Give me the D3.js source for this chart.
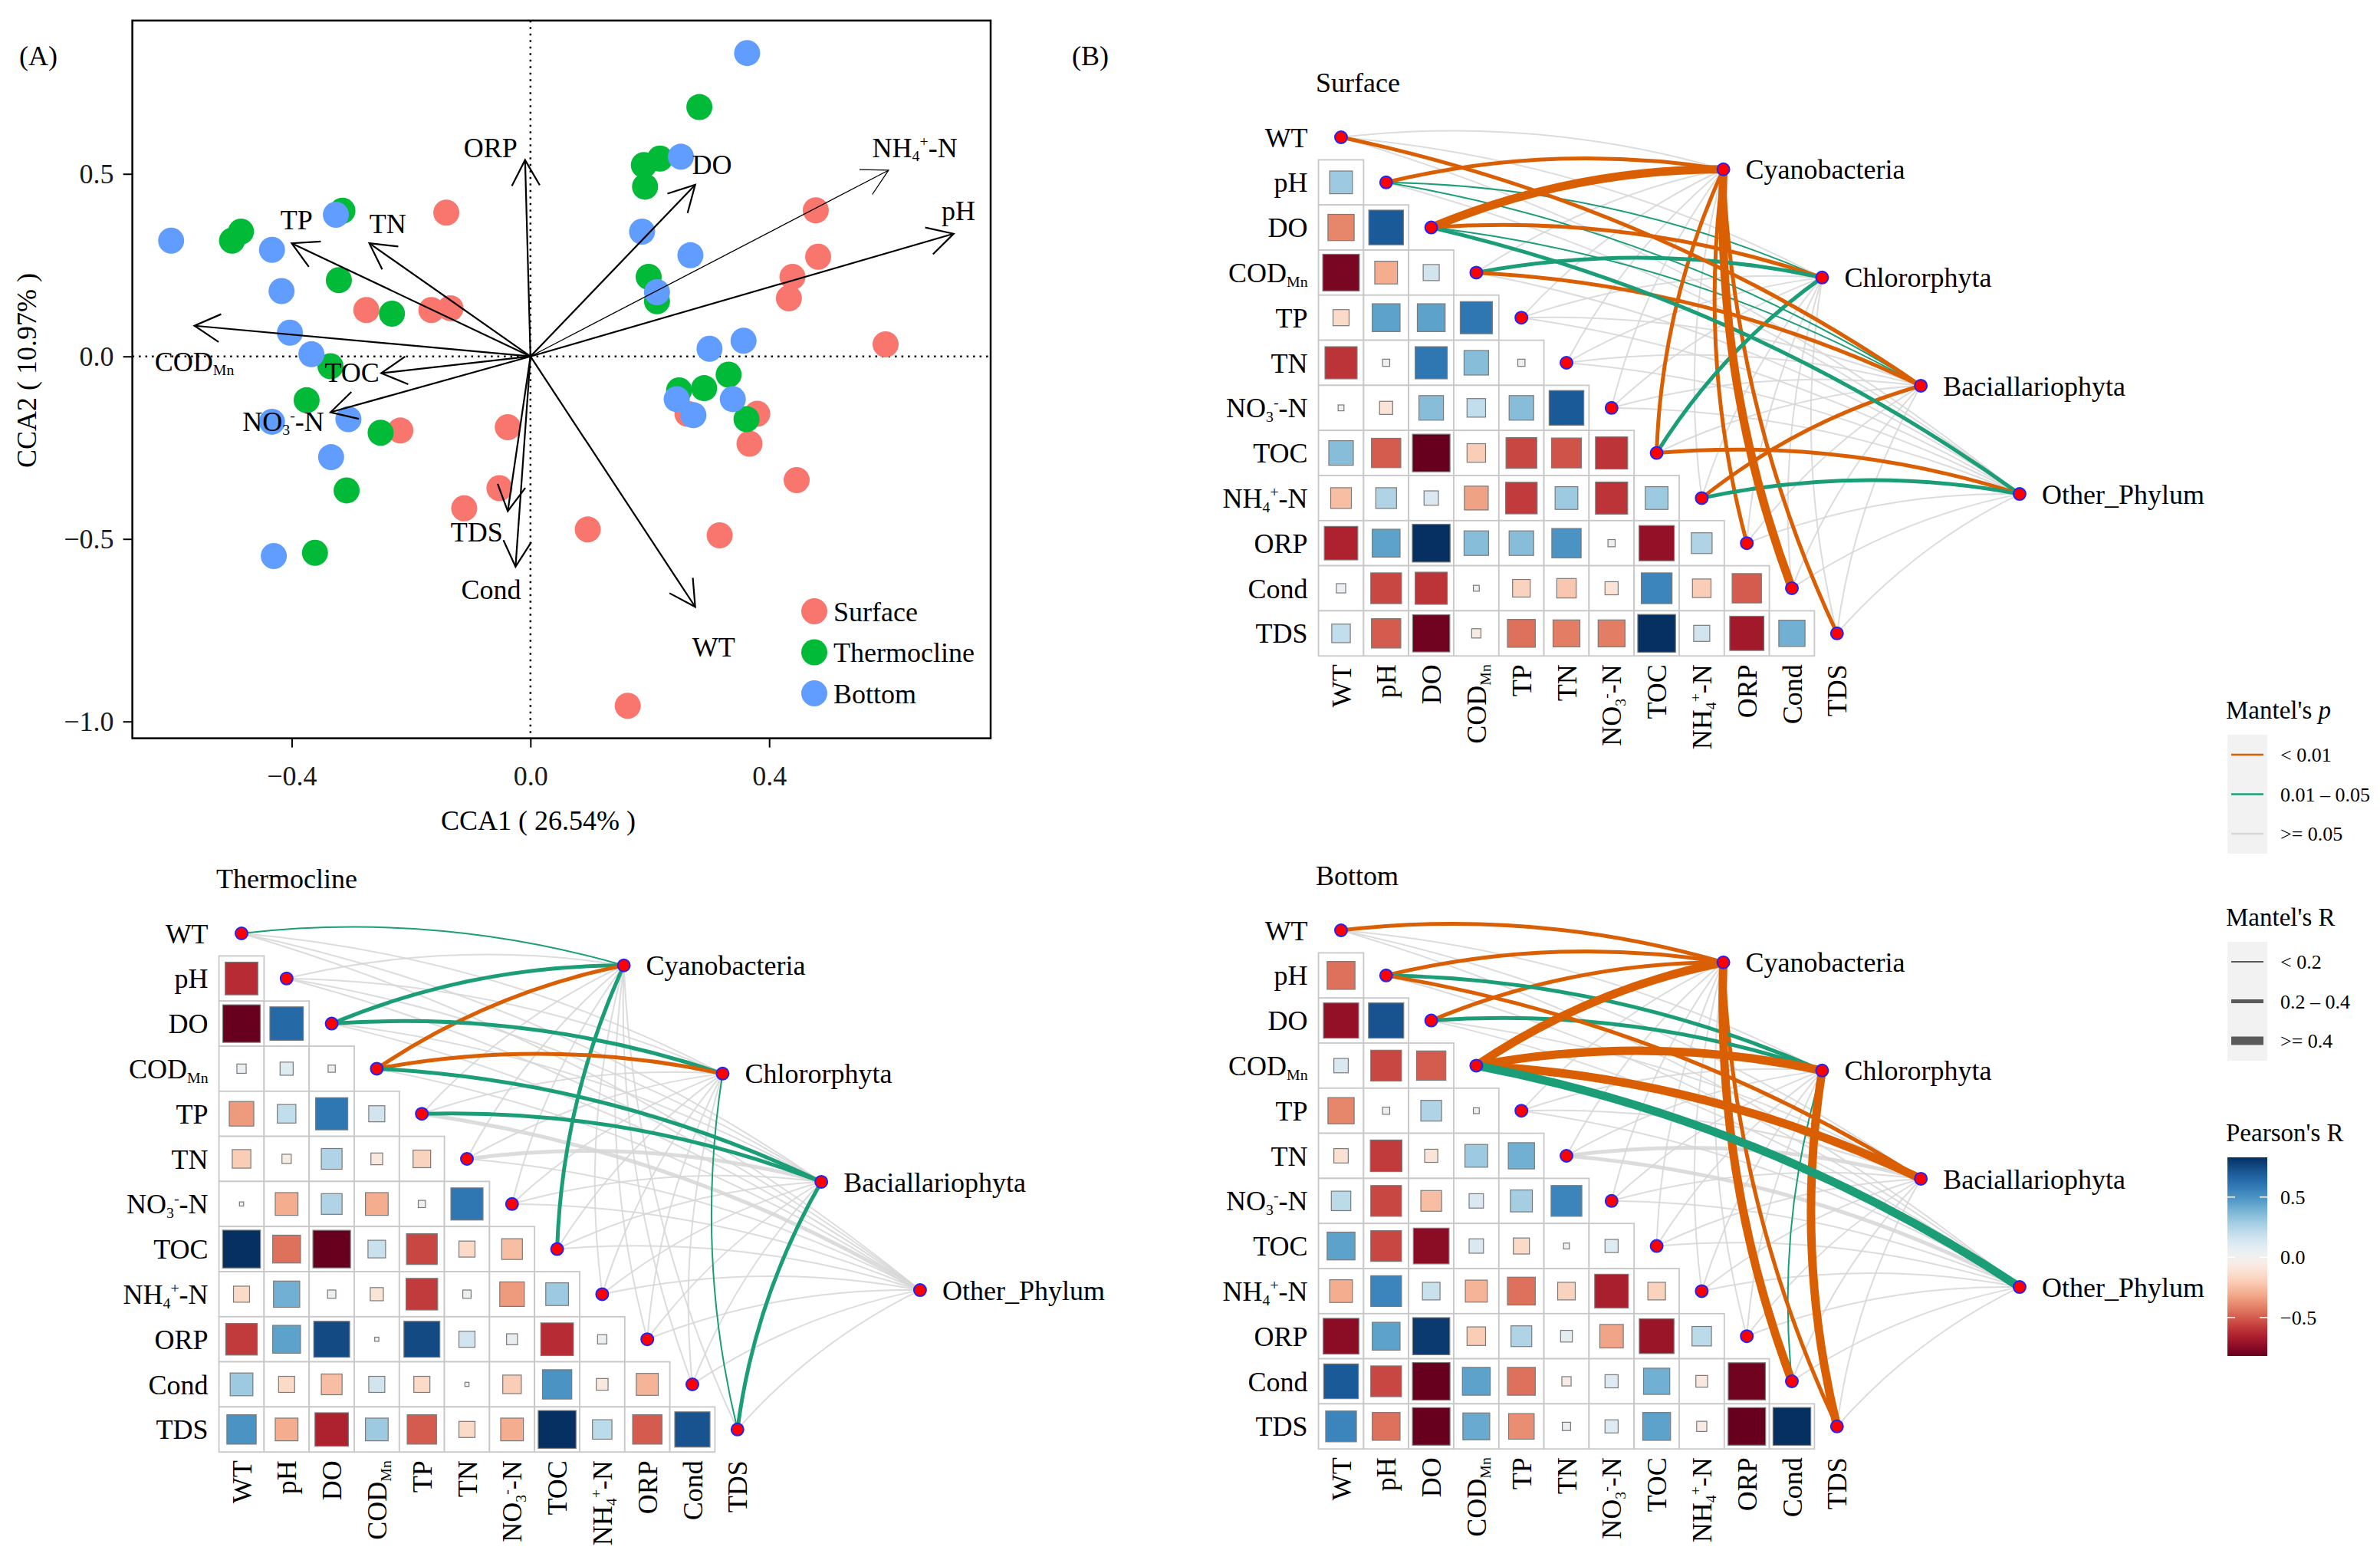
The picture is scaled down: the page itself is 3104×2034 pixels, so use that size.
<!DOCTYPE html>
<html>
<head>
<meta charset="utf-8">
<title>CCA and Mantel test by layer</title>
<script src="https://cdn.jsdelivr.net/npm/d3@7"></script>
<style>
  body { margin: 0; background: #fff; }
  svg { display: block; font-family: "Liberation Serif", "Times New Roman", serif; }
</style>
</head>
<body>
<svg id="fig" width="3104" height="2034"></svg>
<script>
// ---------------- data ----------------
var envVars = ['WT', 'pH', 'DO', 'CODMn', 'TP', 'TN', 'NO3--N', 'TOC', 'NH4+-N', 'ORP', 'Cond', 'TDS'];
var phyla = ['Cyanobacteria', 'Chlororphyta', 'Baciallariophyta', 'Other_Phylum'];
var layers = ['Surface', 'Thermocline', 'Bottom'];

// CCA site scores
var surfaceCCA1 = [-0.141, -0.275, -0.166, -0.134, -0.218, -0.038, -0.052, -0.111, 0.096, 0.317,
  0.163, 0.478, 0.482, 0.439, 0.433, 0.595, 0.380, 0.367, 0.446, 0.263];
var surfaceCCA2 = [0.394, 0.127, 0.127, 0.132, -0.203, -0.194, -0.361, -0.416, -0.474, -0.490,
  -0.957, 0.400, 0.273, 0.218, 0.159, 0.033, -0.157, -0.239, -0.339, -0.157];
var thermoCCA1 = [0.283, 0.190, 0.217, 0.192, 0.198, 0.212, -0.315, -0.500, -0.485, -0.321,
  -0.232, -0.335, -0.375, -0.251, -0.308, -0.361, 0.249, 0.291, 0.332, 0.362];
var thermoCCA2 = [0.683, 0.524, 0.542, 0.465, 0.218, 0.151, 0.399, 0.317, 0.342, 0.209,
  0.117, -0.027, -0.120, -0.209, -0.367, -0.538, -0.093, -0.087, -0.050, -0.172];
var bottomCCA1 = [0.363, 0.252, 0.187, 0.268, 0.212, 0.300, 0.357, 0.245, 0.273, 0.339,
  -0.602, -0.433, -0.326, -0.417, -0.403, -0.367, -0.433, -0.305, -0.334, -0.430];
var bottomCCA2 = [0.831, 0.547, 0.342, 0.277, 0.176, 0.021, 0.043, -0.117, -0.161, -0.117,
  0.317, 0.292, 0.388, 0.179, 0.065, 0.006, -0.179, -0.172, -0.276, -0.547];

// CCA biplot arrows (same order as envVars) and where their labels sit
var arrowCCA1 = [0.276, 0.709, 0.276, -0.563, -0.400, -0.270, -0.335, -0.250, 0.600, -0.009, -0.025, -0.038];
var arrowCCA2 = [-0.686, 0.336, 0.470, 0.084, 0.310, 0.310, -0.153, -0.046, 0.510, 0.538, -0.576, -0.424];
var labelCCA1 = [0.307, 0.717, 0.304, -0.563, -0.392, -0.239, -0.414, -0.299, 0.644, -0.067, -0.066, -0.090];
var labelCCA2 = [-0.795, 0.399, 0.525, -0.013, 0.375, 0.365, -0.177, -0.043, 0.573, 0.573, -0.639, -0.480];

var cca1Ticks = [-0.4, 0.0, 0.4];
var cca2Ticks = [-1.0, -0.5, 0.0, 0.5];

// Pearson's r between environmental factors (lower triangle, row i has i values)
var surfaceR = [
  [],
  [0.30],
  [-0.40, 0.70],
  [-0.78, -0.30, 0.15],
  [-0.15, 0.45, 0.45, 0.60],
  [-0.60, 0.03, 0.60, 0.35, 0.03],
  [0.02, -0.10, 0.35, 0.20, 0.35, 0.70],
  [0.35, -0.50, -0.82, -0.20, -0.55, -0.52, -0.60],
  [-0.25, 0.25, 0.12, -0.33, -0.58, 0.30, -0.60, 0.30],
  [-0.65, 0.45, 0.83, 0.35, 0.35, 0.50, 0.03, -0.72, 0.25],
  [0.05, -0.55, -0.60, -0.02, -0.18, -0.22, -0.10, 0.55, -0.20, -0.50],
  [0.20, -0.50, -0.80, -0.05, -0.45, -0.42, -0.42, 0.83, 0.15, -0.68, 0.40]
];
var thermoR = [
  [],
  [-0.62],
  [-0.82, 0.65],
  [0.05, 0.10, 0.03],
  [-0.35, 0.20, 0.60, 0.15],
  [-0.20, -0.05, 0.25, -0.08, -0.18],
  [0.01, -0.30, 0.25, -0.30, 0.03, 0.60],
  [0.83, -0.45, -0.82, 0.18, -0.55, -0.15, -0.25],
  [-0.15, 0.40, 0.04, -0.10, -0.58, 0.04, -0.35, 0.30],
  [-0.58, 0.45, 0.75, 0.01, 0.75, 0.15, 0.07, -0.62, 0.05],
  [0.30, -0.15, -0.25, 0.15, -0.15, 0.01, -0.20, 0.50, -0.08, -0.28],
  [0.50, -0.30, -0.65, 0.30, -0.50, -0.15, -0.30, 0.83, 0.22, -0.50, 0.72]
];
var bottomR = [
  [],
  [-0.45],
  [-0.72, 0.72],
  [0.12, -0.55, -0.50],
  [-0.40, 0.03, 0.25, 0.02],
  [-0.12, -0.58, -0.10, 0.30, 0.40],
  [0.22, -0.55, -0.25, 0.12, 0.28, 0.55],
  [0.45, -0.55, -0.74, 0.12, -0.15, 0.02, 0.10],
  [-0.30, 0.55, 0.18, -0.28, -0.45, -0.18, -0.66, -0.18],
  [-0.74, 0.45, 0.80, -0.20, 0.25, 0.08, -0.32, -0.70, 0.22],
  [0.70, -0.55, -0.82, 0.45, -0.45, -0.05, 0.10, 0.40, -0.08, -0.80],
  [0.55, -0.45, -0.82, 0.42, -0.38, 0.04, 0.10, 0.45, -0.06, -0.82, 0.83]
];

// Mantel test classes, one row per phylum, one column per env factor
// p: 0 = "< 0.01", 1 = "0.01 - 0.05", 2 = ">= 0.05"
// r: 0 = "< 0.2",  1 = "0.2 - 0.4",   2 = ">= 0.4"
var surfaceMantelP = [
  [2, 0, 0, 2, 2, 2, 2, 0, 2, 0, 0, 0],
  [2, 1, 0, 1, 2, 2, 2, 1, 2, 2, 2, 2],
  [0, 1, 1, 0, 2, 2, 2, 2, 0, 2, 2, 2],
  [2, 2, 1, 2, 2, 2, 2, 0, 1, 2, 2, 2]
];
var surfaceMantelR = [
  [0, 1, 2, 0, 0, 0, 0, 1, 0, 1, 2, 1],
  [0, 0, 1, 1, 0, 0, 0, 1, 0, 0, 0, 0],
  [1, 0, 0, 1, 0, 0, 0, 0, 1, 0, 0, 0],
  [0, 0, 1, 0, 0, 0, 0, 1, 1, 0, 0, 0]
];
var thermoMantelP = [
  [1, 2, 1, 0, 2, 2, 2, 1, 2, 2, 2, 2],
  [2, 2, 1, 0, 2, 2, 2, 2, 2, 2, 2, 1],
  [2, 2, 2, 1, 1, 2, 2, 2, 2, 2, 2, 1],
  [2, 2, 2, 2, 2, 2, 2, 2, 2, 2, 2, 2]
];
var thermoMantelR = [
  [0, 0, 1, 1, 0, 0, 0, 1, 0, 0, 0, 0],
  [0, 0, 1, 1, 0, 0, 0, 0, 0, 0, 0, 0],
  [0, 0, 0, 1, 1, 1, 0, 0, 0, 0, 0, 1],
  [0, 0, 0, 0, 1, 0, 0, 0, 0, 0, 0, 0]
];
var bottomMantelP = [
  [0, 0, 0, 0, 2, 2, 2, 2, 2, 2, 0, 0],
  [2, 1, 1, 0, 2, 2, 2, 2, 2, 2, 1, 0],
  [2, 0, 2, 0, 2, 2, 2, 2, 2, 2, 2, 2],
  [2, 2, 2, 1, 2, 2, 2, 2, 2, 2, 2, 2]
];
var bottomMantelR = [
  [1, 1, 1, 2, 0, 0, 0, 0, 0, 0, 2, 1],
  [0, 1, 1, 2, 0, 0, 0, 0, 0, 0, 0, 2],
  [0, 1, 0, 2, 0, 1, 0, 0, 0, 0, 0, 0],
  [0, 0, 0, 2, 0, 1, 0, 0, 0, 0, 0, 0]
];

var pLabels = ['< 0.01', '0.01 \u2013 0.05', '>= 0.05'];
var rLabels = ['< 0.2', '0.2 \u2013 0.4', '>= 0.4'];
var pearsonTicks = [0.5, 0.0, -0.5];

// ---------------- styling ----------------
var layerColor = ['#F8766D', '#00BA38', '#619CFF'];
var pColor = ['#D95F02', '#1B9E77', '#D6D6D6'];
var rWidth = [2, 5, 11];
var fs = 36;

var svg = d3.select('#fig');
var allR = d3.merge([surfaceR, thermoR, bottomR].map(function (m) { return d3.merge(m); }));
var rExt = d3.extent(allR);
var fill = d3.scaleDiverging(d3.interpolateRdBu).domain([rExt[0], 0, rExt[1]]).clamp(true);

// label with sub / superscripts
function richLabel(sel, name, size) {
  var parts = {
    'CODMn': [['COD', 0], ['Mn', 1]],
    'NO3--N': [['NO', 0], ['3', 1], ['-', 2], ['-N', 0]],
    'NH4+-N': [['NH', 0], ['4', 1], ['+', 2], ['-N', 0]]
  }[name] || [[name, 0]];
  var shift = 0;
  parts.forEach(function (p) {
    var target = p[1] === 1 ? 0.16 : (p[1] === 2 ? -0.38 : 0);
    var t = sel.append('tspan').text(p[0]);
    if (p[1]) t.attr('font-size', size * 0.55);
    if (target !== shift) t.attr('dy', (target - shift) * size);
    shift = target;
  });
}

// ================= (A) CCA =================
var x = d3.scaleLinear().domain([-0.667, 0.771]).range([172.6, 1292]);
var y = d3.scaleLinear().domain([-1.046, 0.92]).range([962.6, 26.8]);
var gA = svg.append('g');

gA.append('line').attr('x1', x(0)).attr('x2', x(0)).attr('y1', y.range()[1]).attr('y2', y.range()[0])
  .attr('stroke', '#000').attr('stroke-width', 2.5).attr('stroke-dasharray', '2.5,6');
gA.append('line').attr('x1', x.range()[0]).attr('x2', x.range()[1]).attr('y1', y(0)).attr('y2', y(0))
  .attr('stroke', '#000').attr('stroke-width', 2.5).attr('stroke-dasharray', '2.5,6');

var sites = [
  [surfaceCCA1, surfaceCCA2],
  [thermoCCA1, thermoCCA2],
  [bottomCCA1, bottomCCA2]
];
sites.forEach(function (s, li) {
  gA.append('g').selectAll('circle').data(d3.range(s[0].length)).enter()
    .append('circle')
      .attr('cx', function (i) { return x(s[0][i]); })
      .attr('cy', function (i) { return y(s[1][i]); })
      .attr('r', 17)
      .attr('fill', layerColor[li]);
});

// arrows
envVars.forEach(function (name, i) {
  var x1 = x(0), y1 = y(0), x2 = x(arrowCCA1[i]), y2 = y(arrowCCA2[i]);
  var ang = Math.atan2(y2 - y1, x2 - x1), len = 38, half = 0.5;
  var w = name === 'NH4+-N' ? 1.3 : 2.2;
  gA.append('line').attr('x1', x1).attr('y1', y1).attr('x2', x2).attr('y2', y2)
    .attr('stroke', '#000').attr('stroke-width', w);
  gA.append('path')
    .attr('d', 'M' + (x2 - len * Math.cos(ang - half)) + ',' + (y2 - len * Math.sin(ang - half)) +
      'L' + x2 + ',' + y2 +
      'L' + (x2 - len * Math.cos(ang + half)) + ',' + (y2 - len * Math.sin(ang + half)))
    .attr('fill', 'none').attr('stroke', '#000').attr('stroke-width', w);
  var t = gA.append('text').attr('x', x(labelCCA1[i])).attr('y', y(labelCCA2[i]))
    .attr('dy', '0.35em').attr('text-anchor', 'middle').attr('font-size', fs);
  richLabel(t, name, fs);
});

// frame and axes
gA.append('rect').attr('x', x.range()[0]).attr('y', y.range()[1])
  .attr('width', x.range()[1] - x.range()[0]).attr('height', y.range()[0] - y.range()[1])
  .attr('fill', 'none').attr('stroke', '#000').attr('stroke-width', 2.5);

var ax = gA.append('g').attr('transform', 'translate(0,' + y.range()[0] + ')')
  .call(d3.axisBottom(x).tickValues(cca1Ticks).tickFormat(d3.format('.1f')).tickSize(12).tickPadding(24));
var ay = gA.append('g').attr('transform', 'translate(' + x.range()[0] + ',0)')
  .call(d3.axisLeft(y).tickValues(cca2Ticks).tickFormat(d3.format('.1f')).tickSize(12).tickPadding(12));
[ax, ay].forEach(function (a) {
  a.attr('font-family', null).attr('font-size', fs);
  a.select('.domain').remove();
  a.selectAll('line').attr('stroke-width', 2);
  a.selectAll('text').attr('fill', '#1a1a1a');
});

gA.append('text').attr('x', 702).attr('y', 1082).attr('text-anchor', 'middle')
  .attr('font-size', fs).text('CCA1 ( 26.54% )');
gA.append('text').attr('transform', 'translate(34,483) rotate(-90)').attr('dy', '0.35em')
  .attr('text-anchor', 'middle').attr('font-size', fs).text('CCA2 ( 10.97% )');
gA.append('text').attr('x', 25).attr('y', 85).attr('font-size', fs).text('(A)');

// legend for layers
layers.forEach(function (name, i) {
  var ly = 797 + i * 53.5;
  gA.append('circle').attr('cx', 1062).attr('cy', ly).attr('r', 17).attr('fill', layerColor[i]);
  gA.append('text').attr('x', 1087).attr('y', ly).attr('dy', '0.35em').attr('font-size', fs).text(name);
});

// ================= (B) Mantel correlograms =================
svg.append('text').attr('x', 1398).attr('y', 85).attr('font-size', fs).text('(B)');

var cell = 58.8;
var panels = [
  { title: 'Surface', x0: 1749, y0: 179, r: surfaceR, p: surfaceMantelP, w: surfaceMantelR },
  { title: 'Thermocline', x0: 315, y0: 1217, r: thermoR, p: thermoMantelP, w: thermoMantelR },
  { title: 'Bottom', x0: 1749, y0: 1213, r: bottomR, p: bottomMantelP, w: bottomMantelR }
];

function curvePath(x1, y1, x2, y2) {
  var dx = x2 - x1, dy = y2 - y1;
  var mx = (x1 + x2) / 2 + dy * 0.1, my = (y1 + y2) / 2 - dx * 0.1;
  return 'M' + x1 + ',' + y1 + 'Q' + mx + ',' + my + ' ' + x2 + ',' + y2;
}

panels.forEach(function (pn) {
  var g = svg.append('g');
  var cx = function (j) { return pn.x0 + j * cell; };
  var cy = function (i) { return pn.y0 + i * cell; };

  var cells = [];
  pn.r.forEach(function (row, i) {
    row.forEach(function (v, j) { cells.push({ i: i, j: j, v: v }); });
  });

  g.append('g').selectAll('rect').data(cells).enter().append('rect')
    .attr('x', function (d) { return cx(d.j) - cell / 2; })
    .attr('y', function (d) { return cy(d.i) - cell / 2; })
    .attr('width', cell).attr('height', cell)
    .attr('fill', '#fff').attr('stroke', '#c8c8c8').attr('stroke-width', 1.8);

  g.append('g').selectAll('rect').data(cells).enter().append('rect')
    .attr('x', function (d) { return cx(d.j) - cell * 0.46 * Math.sqrt(Math.abs(d.v)); })
    .attr('y', function (d) { return cy(d.i) - cell * 0.46 * Math.sqrt(Math.abs(d.v)); })
    .attr('width', function (d) { return cell * 0.92 * Math.sqrt(Math.abs(d.v)); })
    .attr('height', function (d) { return cell * 0.92 * Math.sqrt(Math.abs(d.v)); })
    .attr('fill', function (d) { return fill(d.v); })
    .attr('stroke', '#7a7a7a').attr('stroke-width', 1.2);

  // row and column labels
  envVars.forEach(function (name, i) {
    var t = g.append('text').attr('x', pn.x0 - cell / 2 - 14).attr('y', cy(i))
      .attr('dy', '0.35em').attr('text-anchor', 'end').attr('font-size', fs);
    richLabel(t, name, fs);
    var c = g.append('text')
      .attr('transform', 'translate(' + cx(i) + ',' + (cy(11) + cell / 2 + 11) + ') rotate(-90)')
      .attr('dy', '0.35em').attr('text-anchor', 'end').attr('font-size', fs);
    richLabel(c, name, fs);
  });

  g.append('text').attr('x', pn.x0 - 33).attr('y', pn.y0 - 59).attr('font-size', fs).text(pn.title);

  // phylum nodes
  var sp = phyla.map(function (name, k) {
    return { name: name, x: cx(8.48 + 2.19 * k), y: cy(0.71 + 2.40 * k) };
  });

  var edges = [];
  sp.forEach(function (s, k) {
    envVars.forEach(function (e, i) {
      edges.push({ s: s, i: i, p: pn.p[k][i], w: pn.w[k][i] });
    });
  });
  edges.sort(function (a, b) { return (b.p === 2) - (a.p === 2) || a.w - b.w; });

  g.append('g').selectAll('path').data(edges).enter().append('path')
    .attr('d', function (d) { return curvePath(cx(d.i), cy(d.i), d.s.x, d.s.y); })
    .attr('fill', 'none')
    .attr('stroke', function (d) { return pColor[d.p]; })
    .attr('stroke-width', function (d) { return rWidth[d.w]; })
    .attr('stroke-opacity', function (d) { return d.p === 2 ? 0.85 : 1; });

  var nodes = envVars.map(function (e, i) { return { x: cx(i), y: cy(i) }; }).concat(sp);
  g.append('g').selectAll('circle').data(nodes).enter().append('circle')
    .attr('cx', function (d) { return d.x; }).attr('cy', function (d) { return d.y; })
    .attr('r', 8).attr('fill', '#ff0000').attr('stroke', '#2222ff').attr('stroke-width', 2);

  g.append('g').selectAll('text').data(sp).enter().append('text')
    .attr('x', function (d) { return d.x + 29; }).attr('y', function (d) { return d.y; })
    .attr('dy', '0.35em').attr('font-size', fs).text(function (d) { return d.name; });
});

// ================= legends =================
var lg = svg.append('g').attr('transform', 'translate(2905,0)');
var lfs = 26;

function keyBox(top, title, items, strokeFor, widthFor) {
  var t = lg.append('text').attr('x', -2).attr('y', top - 21).attr('font-size', 33).text(title[0]);
  if (title[1]) t.append('tspan').attr('font-style', 'italic').text(title[1]);
  lg.append('rect').attr('x', 0).attr('y', top).attr('width', 52).attr('height', 155).attr('fill', '#f2f2f2');
  items.forEach(function (lab, i) {
    var ly = top + 26 + i * 51.5;
    lg.append('line').attr('x1', 5).attr('x2', 47).attr('y1', ly).attr('y2', ly)
      .attr('stroke', strokeFor(i)).attr('stroke-width', widthFor(i));
    lg.append('text').attr('x', 69).attr('y', ly).attr('dy', '0.35em').attr('font-size', lfs).text(lab);
  });
}
keyBox(958, ["Mantel's ", 'p'], pLabels, function (i) { return pColor[i]; }, function () { return 2.6; });
keyBox(1228, ["Mantel's R"], rLabels, function () { return '#5a5a5a'; }, function (i) { return rWidth[i]; });

// Pearson colour bar
var barTop = 1509, barBot = 1768;
var bar = d3.scaleLinear().domain([rExt[1], rExt[0]]).range([barTop, barBot]);
var grad = svg.append('defs').append('linearGradient').attr('id', 'pearson')
  .attr('x1', 0).attr('y1', 0).attr('x2', 0).attr('y2', 1);
d3.range(0, 41).forEach(function (k) {
  var v = rExt[1] - k / 40 * (rExt[1] - rExt[0]);
  grad.append('stop').attr('offset', (k / 40 * 100) + '%').attr('stop-color', fill(v));
});
lg.append('text').attr('x', -2).attr('y', barTop - 21).attr('font-size', 33).text("Pearson's R");
lg.append('rect').attr('x', 0).attr('y', barTop).attr('width', 52).attr('height', barBot - barTop)
  .attr('fill', 'url(#pearson)');
pearsonTicks.forEach(function (v) {
  [[0, 10], [42, 52]].forEach(function (s) {
    lg.append('line').attr('x1', s[0]).attr('x2', s[1]).attr('y1', bar(v)).attr('y2', bar(v))
      .attr('stroke', '#fff').attr('stroke-width', 1.5);
  });
  lg.append('text').attr('x', 69).attr('y', bar(v)).attr('dy', '0.35em').attr('font-size', lfs)
    .text(d3.format('.1f')(v));
});
</script>
</body>
</html>
